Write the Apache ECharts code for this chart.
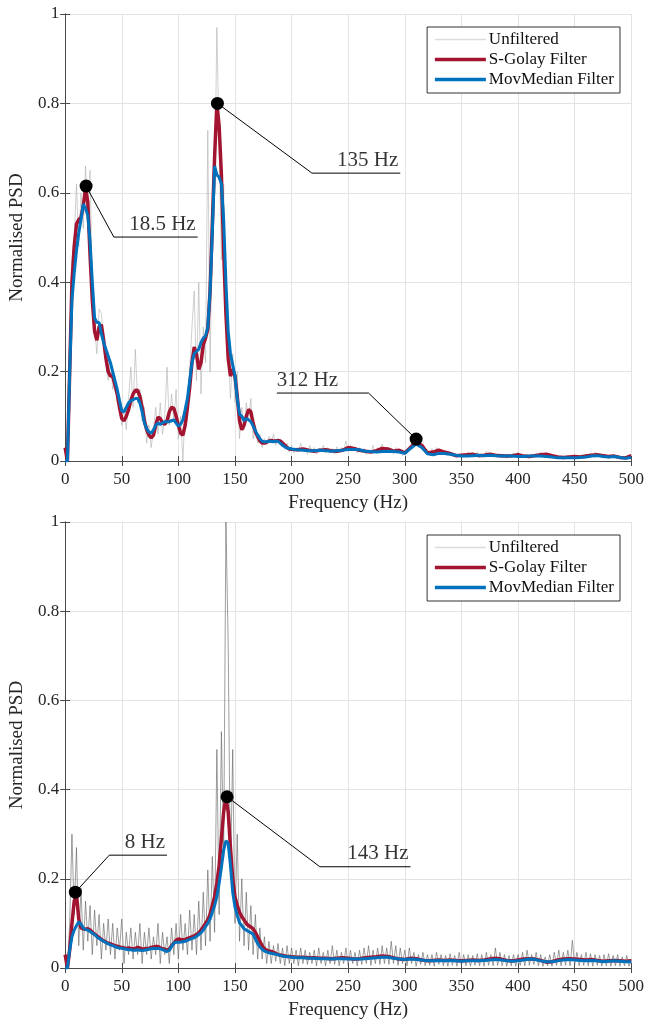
<!DOCTYPE html>
<html>
<head>
<meta charset="utf-8">
<script src="https://cdn.jsdelivr.net/npm/echarts@6/dist/echarts.min.js"></script>
<style>
  html, body { margin: 0; padding: 0; background: #fff; }
  #chart { width: 647px; height: 1024px; }
</style>
</head>
<body>
<div id="chart"></div>
<script>
// frequency bins of the smoothed curves (Hz)
const freqSmooth = [
  0, 2, 4, 6, 8, 10, 12, 14, 16, 18,
  20, 22, 24, 26, 28, 30, 32, 34, 36, 38,
  40, 42, 44, 46, 48, 50, 52, 54, 56, 58,
  60, 62, 64, 66, 68, 70, 72, 74, 76, 78,
  80, 82, 84, 86, 88, 90, 92, 94, 96, 98,
  100, 102, 104, 106, 108, 110, 112, 114, 116, 118,
  120, 122, 124, 126, 128, 130, 132, 134, 136, 138,
  140, 142, 144, 146, 148, 150, 152, 154, 156, 158,
  160, 162, 164, 166, 168, 170, 172, 174, 176, 178,
  180, 182, 184, 186, 188, 190, 192, 194, 196, 198,
  200,
  205, 210, 215, 220, 225, 230, 235, 240, 245, 250,
  255, 260, 265, 270, 275, 280, 285, 290, 295, 300,
  305, 310, 315, 320, 325, 330, 335, 340, 345, 350,
  355, 360, 365, 370, 375, 380, 385, 390, 395, 400,
  405, 410, 415, 420, 425, 430, 435, 440, 445, 450,
  455, 460, 465, 470, 475, 480, 485, 490, 495, 500
];
// raw PSD bin width (Hz), raw bins start at 0
const binHz = 2;

// ---- top panel ----
const unfTop = [
  0.03, 0.0, 0.25, 0.45, 0.5, 0.62, 0.48, 0.6, 0.52, 0.66,
  0.55, 0.65, 0.38, 0.3, 0.24, 0.34, 0.33, 0.26, 0.22, 0.18,
  0.22, 0.16, 0.19, 0.13, 0.14, 0.08, 0.12, 0.07, 0.14, 0.21,
  0.12, 0.25, 0.13, 0.16, 0.09, 0.12, 0.04, 0.08, 0.03, 0.07,
  0.12, 0.06, 0.13, 0.06, 0.1, 0.21, 0.08, 0.15, 0.09, 0.16,
  0.05, 0.1, 0.0, 0.12, 0.09, 0.2, 0.3, 0.38, 0.18, 0.4,
  0.15, 0.3, 0.22, 0.74, 0.2, 0.55, 0.6, 0.97, 0.7, 0.45,
  0.62, 0.3, 0.25, 0.14, 0.24, 0.13, 0.2, 0.05, 0.12, 0.07,
  0.13, 0.09, 0.14, 0.05, 0.08, 0.04, 0.06, 0.03, 0.05, 0.035,
  0.055, 0.04, 0.06, 0.035, 0.05, 0.04, 0.045, 0.025, 0.04, 0.02,
  0.035, 0.018, 0.03, 0.02, 0.04, 0.022, 0.03, 0.015, 0.035, 0.02,
  0.03, 0.015, 0.028, 0.02, 0.035, 0.018, 0.03, 0.02, 0.028, 0.015,
  0.032, 0.02, 0.03, 0.022, 0.045, 0.02, 0.035, 0.025, 0.03, 0.018,
  0.03, 0.02, 0.028, 0.015, 0.025, 0.02, 0.035, 0.018, 0.03, 0.022,
  0.038, 0.02, 0.03, 0.02, 0.028, 0.015, 0.03, 0.02, 0.025, 0.012,
  0.02, 0.025, 0.03, 0.035, 0.05, 0.04, 0.052, 0.03, 0.035, 0.02,
  0.025, 0.015, 0.028, 0.018, 0.03, 0.02, 0.025, 0.015, 0.022, 0.012,
  0.02, 0.01, 0.018, 0.008, 0.015, 0.01, 0.018, 0.01, 0.02, 0.012,
  0.018, 0.008, 0.02, 0.01, 0.016, 0.01, 0.022, 0.012, 0.018, 0.01,
  0.016, 0.008, 0.015, 0.01, 0.014, 0.006, 0.015, 0.01, 0.018, 0.01,
  0.02, 0.008, 0.014, 0.01, 0.015, 0.006, 0.014, 0.01, 0.018, 0.012,
  0.02, 0.01, 0.018, 0.012, 0.016, 0.008, 0.012, 0.006, 0.012, 0.005,
  0.01, 0.006, 0.012, 0.007, 0.013, 0.006, 0.012, 0.008, 0.014, 0.01,
  0.015, 0.01, 0.018, 0.01, 0.02, 0.012, 0.016, 0.01, 0.014, 0.008,
  0.012, 0.009, 0.015, 0.008, 0.012, 0.006, 0.01, 0.005, 0.009, 0.006,
  0.015
];
const sgTop = [
  0.03, 0.0, 0.2, 0.4, 0.48, 0.53, 0.54, 0.545, 0.57, 0.61,
  0.58, 0.46, 0.36, 0.29, 0.27, 0.3, 0.305, 0.27, 0.23, 0.2,
  0.19, 0.19, 0.17, 0.15, 0.12, 0.095, 0.09, 0.1, 0.115, 0.135,
  0.15, 0.158, 0.158, 0.145, 0.12, 0.09, 0.07, 0.058, 0.052, 0.058,
  0.08, 0.098, 0.095, 0.085, 0.082, 0.09, 0.11, 0.12, 0.118, 0.1,
  0.08, 0.062, 0.058, 0.08, 0.12, 0.165, 0.22, 0.255, 0.24, 0.205,
  0.22, 0.26, 0.275, 0.295, 0.38, 0.53, 0.68, 0.8, 0.75, 0.64,
  0.47, 0.33, 0.23, 0.19, 0.205, 0.19, 0.145, 0.09, 0.07, 0.08,
  0.1, 0.115, 0.11, 0.085, 0.065, 0.055, 0.045, 0.04, 0.04, 0.042,
  0.045, 0.046, 0.045, 0.045, 0.046, 0.045, 0.04, 0.035, 0.03, 0.027,
  0.026,
  0.025, 0.027, 0.024, 0.022, 0.024, 0.025, 0.023, 0.022, 0.024, 0.03,
  0.028, 0.024, 0.022, 0.02, 0.023, 0.028, 0.027, 0.022, 0.024, 0.018,
  0.03, 0.043, 0.035, 0.018, 0.02, 0.024, 0.02, 0.017, 0.012, 0.013,
  0.014, 0.015, 0.012, 0.013, 0.015, 0.013, 0.012, 0.011, 0.012, 0.014,
  0.011, 0.01, 0.012, 0.014, 0.015, 0.012, 0.009, 0.008, 0.009, 0.01,
  0.009, 0.011, 0.013, 0.014, 0.012, 0.01, 0.011, 0.008, 0.007, 0.012
];
const mmTop = [
  0.0, 0.0, 0.2, 0.36, 0.42, 0.47, 0.51, 0.54, 0.575, 0.565,
  0.55, 0.49, 0.4, 0.32, 0.31, 0.31, 0.285, 0.265, 0.25, 0.235,
  0.22, 0.2, 0.18, 0.16, 0.135, 0.112, 0.11, 0.12, 0.13, 0.135,
  0.137, 0.14, 0.14, 0.13, 0.11, 0.085, 0.072, 0.065, 0.062, 0.07,
  0.08, 0.085, 0.082, 0.085, 0.088, 0.088, 0.088, 0.09, 0.092, 0.085,
  0.078, 0.082, 0.092, 0.115, 0.14, 0.18, 0.22, 0.24, 0.245, 0.25,
  0.265, 0.275, 0.28, 0.3, 0.38, 0.51, 0.66, 0.64, 0.635, 0.62,
  0.54, 0.4, 0.29, 0.24, 0.215, 0.19, 0.14, 0.105, 0.1, 0.09,
  0.095, 0.092, 0.088, 0.078, 0.068, 0.058, 0.05, 0.044, 0.043, 0.043,
  0.044, 0.044, 0.043, 0.044, 0.044, 0.04, 0.035, 0.032, 0.029, 0.028,
  0.027,
  0.025, 0.024, 0.023, 0.023, 0.024, 0.023, 0.022, 0.023, 0.024, 0.026,
  0.026, 0.025, 0.022, 0.021, 0.02, 0.021, 0.022, 0.021, 0.02, 0.017,
  0.028, 0.038, 0.03, 0.016, 0.014, 0.017, 0.017, 0.015, 0.013, 0.011,
  0.011, 0.012, 0.013, 0.012, 0.013, 0.012, 0.011, 0.011, 0.011, 0.01,
  0.01, 0.011, 0.011, 0.011, 0.01, 0.009, 0.007, 0.007, 0.007, 0.007,
  0.008, 0.009, 0.011, 0.012, 0.01, 0.009, 0.01, 0.008, 0.006, 0.008
];
// callouts: peak, elbow of the leader, far end of the shelf under the text
const topPeakHz = [18.5, 134.5, 310];
const topPeakVal = [0.615, 0.8, 0.049];
const topElbowHz = [43, 218, 268];
const topShelfVal = [0.501, 0.644, 0.152];
const topEndHz = [117, 296, 187];
const topLabels = ['18.5 Hz', '135 Hz', '312 Hz'];

// ---- bottom panel ----
const unfBot = [
  0.02, 0.0, 0.1, 0.3, 0.12, 0.27, 0.05, 0.18, 0.04, 0.15,
  0.06, 0.14, 0.03, 0.13, 0.05, 0.12, 0.02, 0.1, 0.04, 0.11,
  0.03, 0.1, 0.02, 0.09, 0.04, 0.11, 0.01, 0.08, 0.03, 0.09,
  0.02, 0.08, 0.03, 0.1, 0.01, 0.08, 0.03, 0.09, 0.02, 0.07,
  0.03, 0.1, 0.01, 0.08, 0.03, 0.07, 0.01, 0.09, 0.03, 0.1,
  0.02, 0.12, 0.04, 0.1, 0.03, 0.13, 0.04, 0.12, 0.03, 0.15,
  0.04, 0.17, 0.05, 0.22, 0.06, 0.25, 0.08, 0.49, 0.12, 0.53,
  0.25, 1.0, 0.73, 0.2, 0.49, 0.1, 0.3, 0.06, 0.2, 0.05,
  0.17, 0.04, 0.14, 0.03, 0.12, 0.02, 0.09, 0.02, 0.07, 0.01,
  0.06, 0.01, 0.05, 0.015, 0.055, 0.01, 0.045, 0.005, 0.05, 0.01,
  0.045, 0.01, 0.04, 0.005, 0.045, 0.01, 0.04, 0.008, 0.035, 0.01,
  0.04, 0.005, 0.045, 0.01, 0.035, 0.005, 0.04, 0.01, 0.05, 0.008,
  0.04, 0.005, 0.035, 0.01, 0.045, 0.006, 0.04, 0.01, 0.035, 0.005,
  0.04, 0.008, 0.045, 0.01, 0.05, 0.006, 0.04, 0.01, 0.045, 0.008,
  0.05, 0.01, 0.045, 0.008, 0.06, 0.01, 0.05, 0.006, 0.045, 0.01,
  0.04, 0.005, 0.045, 0.01, 0.035, 0.004, 0.03, 0.008, 0.035, 0.005,
  0.03, 0.006, 0.03, 0.004, 0.035, 0.008, 0.03, 0.005, 0.028, 0.004,
  0.032, 0.006, 0.028, 0.004, 0.035, 0.006, 0.03, 0.005, 0.03, 0.004,
  0.028, 0.006, 0.032, 0.005, 0.03, 0.004, 0.035, 0.006, 0.03, 0.005,
  0.045, 0.006, 0.035, 0.005, 0.03, 0.004, 0.028, 0.005, 0.03, 0.004,
  0.03, 0.006, 0.035, 0.005, 0.04, 0.006, 0.03, 0.008, 0.035, 0.005,
  0.03, 0.004, 0.025, 0.005, 0.03, 0.004, 0.035, 0.006, 0.04, 0.005,
  0.035, 0.006, 0.04, 0.005, 0.062, 0.006, 0.035, 0.005, 0.03, 0.006,
  0.035, 0.005, 0.032, 0.004, 0.03, 0.006, 0.028, 0.004, 0.03, 0.005,
  0.032, 0.004, 0.028, 0.005, 0.03, 0.004, 0.025, 0.005, 0.028, 0.004,
  0.02
];
const sgBot = [
  0.03, 0.0, 0.04, 0.1, 0.15, 0.165, 0.11, 0.09, 0.088, 0.087,
  0.088, 0.085, 0.08, 0.076, 0.072, 0.068, 0.064, 0.061, 0.058, 0.056,
  0.054, 0.052, 0.05, 0.049, 0.047, 0.046, 0.045, 0.044, 0.045, 0.044,
  0.043, 0.044, 0.046, 0.045, 0.042, 0.043, 0.044, 0.044, 0.046, 0.047,
  0.048, 0.048, 0.045, 0.043, 0.042, 0.04, 0.042, 0.05, 0.056, 0.062,
  0.065, 0.064, 0.063, 0.064, 0.066, 0.068, 0.07, 0.072, 0.075, 0.079,
  0.085, 0.092, 0.1, 0.108, 0.12, 0.14, 0.16, 0.19, 0.23, 0.29,
  0.35, 0.383, 0.35, 0.27, 0.2, 0.16, 0.14, 0.125, 0.115, 0.108,
  0.1, 0.095, 0.092, 0.088, 0.08, 0.07, 0.06, 0.05, 0.043, 0.04,
  0.038, 0.037, 0.035, 0.033, 0.03, 0.029, 0.028, 0.027, 0.026, 0.026,
  0.025,
  0.024, 0.024, 0.023, 0.023, 0.022, 0.022, 0.021, 0.022, 0.023, 0.022,
  0.02, 0.021, 0.023, 0.024, 0.025, 0.027, 0.026, 0.023, 0.02, 0.019,
  0.022, 0.021, 0.018, 0.016, 0.017, 0.018, 0.017, 0.018, 0.017, 0.016,
  0.017, 0.018, 0.017, 0.018, 0.02, 0.022, 0.02, 0.017, 0.016, 0.018,
  0.02, 0.021, 0.02, 0.017, 0.013, 0.014, 0.018, 0.02, 0.021, 0.02,
  0.019, 0.018, 0.019, 0.017, 0.015, 0.016, 0.017, 0.016, 0.015, 0.016
];
const mmBot = [
  0.0, 0.0, 0.04, 0.07, 0.085, 0.095, 0.104, 0.098, 0.09, 0.086,
  0.085, 0.082, 0.078, 0.075, 0.07, 0.066, 0.063, 0.06, 0.057, 0.054,
  0.052, 0.05, 0.048, 0.046, 0.045, 0.044, 0.043, 0.042, 0.041, 0.041,
  0.04, 0.04, 0.041, 0.04, 0.039, 0.04, 0.041, 0.042, 0.043, 0.044,
  0.044, 0.044, 0.043, 0.041, 0.039, 0.037, 0.04, 0.048, 0.056, 0.058,
  0.058, 0.058, 0.059, 0.06, 0.062, 0.064, 0.066, 0.068, 0.071, 0.075,
  0.079, 0.085, 0.093, 0.1, 0.11, 0.125, 0.14, 0.16, 0.19, 0.225,
  0.265, 0.285, 0.28, 0.23, 0.17, 0.137, 0.118, 0.102, 0.095, 0.088,
  0.085, 0.082, 0.079, 0.076, 0.065, 0.055, 0.047, 0.042, 0.038, 0.036,
  0.034, 0.033, 0.032, 0.031, 0.03, 0.028, 0.027, 0.026, 0.025, 0.025,
  0.024,
  0.023, 0.023, 0.022, 0.022, 0.021, 0.021, 0.02, 0.021, 0.021, 0.02,
  0.02, 0.02, 0.021, 0.022, 0.023, 0.024, 0.024, 0.022, 0.02, 0.019,
  0.02, 0.019, 0.018, 0.016, 0.016, 0.017, 0.016, 0.017, 0.016, 0.015,
  0.016, 0.016, 0.016, 0.017, 0.018, 0.019, 0.018, 0.016, 0.015, 0.016,
  0.018, 0.02, 0.019, 0.016, 0.014, 0.014, 0.016, 0.018, 0.019, 0.018,
  0.017, 0.016, 0.017, 0.016, 0.014, 0.015, 0.016, 0.015, 0.014, 0.014
];
const botPeakHz = [9, 143];
const botPeakVal = [0.17, 0.384];
const botElbowHz = [39, 225];
const botShelfVal = [0.253, 0.227];
const botEndHz = [90, 305];
const botLabels = ['8 Hz', '143 Hz'];

const FONT = 'Liberation Serif';
const INK = '#262626';
const AXIS = '#4a4a4a';
const RED = '#A2142F';
const BLUE = '#0072BD';

const legendItems = [
  { name: 'Unfiltered', lineStyle: { width: 1.5, color: '#dcdcdc' } },
  { name: 'S-Golay Filter', lineStyle: { width: 3.5, color: RED } },
  { name: 'MovMedian Filter', lineStyle: { width: 3.5, color: BLUE } }
];

function xAxes(grid) {
  return [{
    gridIndex: grid, type: 'value', min: 0, max: 500, interval: 50,
    name: 'Frequency (Hz)', nameLocation: 'middle', nameGap: 33,
    nameTextStyle: { fontFamily: FONT, fontSize: 19, color: INK },
    axisLine: { lineStyle: { color: AXIS } },
    axisTick: { inside: true, length: 5, lineStyle: { color: AXIS } },
    axisLabel: { fontFamily: FONT, fontSize: 17, color: INK, margin: 10 },
    splitLine: { show: true, lineStyle: { color: '#e3e3e3' } }
  }, {
    gridIndex: grid, type: 'value', min: 0, max: 500, interval: 50, position: 'top',
    axisLine: { lineStyle: { color: AXIS } },
    axisTick: { inside: true, length: 5, lineStyle: { color: AXIS } },
    axisLabel: { show: false }, splitLine: { show: false }
  }];
}
function yAxes(grid) {
  return [{
    gridIndex: grid, type: 'value', min: 0, max: 1, interval: 0.2,
    name: 'Normalised PSD', nameLocation: 'middle', nameGap: 32,
    nameTextStyle: { fontFamily: FONT, fontSize: 19, color: INK },
    axisLine: { show: true, lineStyle: { color: AXIS } },
    axisTick: { show: true, inside: true, length: 5, lineStyle: { color: AXIS } },
    axisLabel: { fontFamily: FONT, fontSize: 17, color: INK, margin: 6,
      formatter: v => String(+v.toFixed(1)) },
    splitLine: { show: true, lineStyle: { color: '#e3e3e3' } }
  }, {
    gridIndex: grid, type: 'value', min: 0, max: 1, interval: 0.2, position: 'right',
    axisLine: { show: true, lineStyle: { color: AXIS } },
    axisTick: { show: true, inside: true, length: 5, lineStyle: { color: AXIS } },
    axisLabel: { show: false }, splitLine: { show: false }
  }];
}

function panelSeries(ax, unf, unfColor, sg, mm, peakHz, peakVal, elbowHz, shelfVal, endHz, labels) {
  const base = { xAxisIndex: ax, yAxisIndex: ax, type: 'line', symbol: 'none', animation: false };
  const list = [
    Object.assign({}, base, { name: 'Unfiltered', data: unf.map((v, i) => [i * binHz, v]),
      lineStyle: { color: unfColor, width: 1 }, itemStyle: { color: '#d9d9d9' } }),
    Object.assign({}, base, { name: 'S-Golay Filter', data: sg.map((v, i) => [freqSmooth[i], v]),
      lineStyle: { color: RED, width: 3.5 }, itemStyle: { color: RED } }),
    Object.assign({}, base, { name: 'MovMedian Filter', data: mm.map((v, i) => [freqSmooth[i], v]),
      lineStyle: { color: BLUE, width: 3 }, itemStyle: { color: BLUE } })
  ];
  peakHz.forEach((f, k) => {
    list.push(Object.assign({}, base, {
      data: [[f, peakVal[k]], [elbowHz[k], shelfVal[k]], [endHz[k], shelfVal[k]]],
      lineStyle: { color: '#000', width: 1 }, z: 5
    }));
  });
  list.push({
    type: 'scatter', xAxisIndex: ax, yAxisIndex: ax, animation: false, z: 6,
    symbolSize: 13, itemStyle: { color: '#000', opacity: 1 },
    data: peakHz.map((f, k) => [f, peakVal[k]])
  });
  list.push({
    type: 'scatter', xAxisIndex: ax, yAxisIndex: ax, animation: false, z: 6,
    symbolSize: 1, itemStyle: { color: 'rgba(0,0,0,0)' },
    data: endHz.map((f, k) => {
      const toRight = endHz[k] > elbowHz[k];
      return {
        value: [f, shelfVal[k]],
        label: {
          show: true, position: 'top', distance: 2,
          align: toRight ? 'right' : 'left', offset: [toRight ? -2 : 0, 0],
          formatter: labels[k], fontFamily: FONT, fontSize: 21, color: '#000'
        }
      };
    })
  });
  return list;
}

function legendAt(top) {
  return {
    data: legendItems, orient: 'vertical', right: 27, top: top,
    backgroundColor: '#fff', borderColor: '#333', borderWidth: 1,
    padding: [4, 6, 5, 6], itemWidth: 51, itemHeight: 10, itemGap: 3,
    selectedMode: false,
    itemStyle: { opacity: 0 },
    textStyle: { fontFamily: FONT, fontSize: 17, color: '#111', padding: [0, 0, 0, -2] }
  };
}

const chart = echarts.init(document.getElementById('chart'));
chart.setOption({
  backgroundColor: '#fff',
  animation: false,
  grid: [
    { left: 65, right: 13, top: 14, height: 447 },
    { left: 65, right: 13, top: 522, height: 446 }
  ],
  legend: [legendAt(27), legendAt(535)],
  xAxis: xAxes(0).concat(xAxes(1)),
  yAxis: yAxes(0).concat(yAxes(1)),
  series: panelSeries(0, unfTop, 'rgba(170,170,170,0.55)', sgTop, mmTop,
      topPeakHz, topPeakVal, topElbowHz, topShelfVal, topEndHz, topLabels)
    .concat(panelSeries(2, unfBot, 'rgba(95,95,95,0.6)', sgBot, mmBot,
      botPeakHz, botPeakVal, botElbowHz, botShelfVal, botEndHz, botLabels))
});
</script>
</body>
</html>
